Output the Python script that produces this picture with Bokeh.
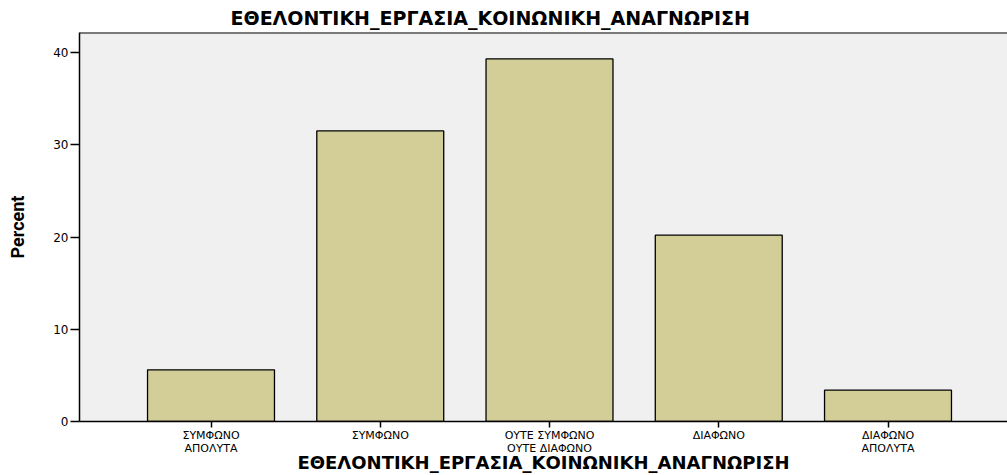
from bokeh.plotting import figure
from bokeh.models import Range1d, Span, FixedTicker, Title
from bokeh.embed import file_html
from bokeh.resources import INLINE

categories = ["ΣΥΜΦΩΝΟ\nΑΠΟΛΥΤΑ", "ΣΥΜΦΩΝΟ", "ΟΥΤΕ ΣΥΜΦΩΝΟ\nΟΥΤΕ ΔΙΑΦΩΝΟ", "ΔΙΑΦΩΝΟ", "ΔΙΑΦΩΝΟ\nΑΠΟΛΥΤΑ"]
percent = [5.6, 31.5, 39.3, 20.2, 3.4]
positions = [1, 2, 3, 4, 5]
y_ticks = [0, 10, 20, 30, 40]
title_text = "ΕΘΕΛΟΝΤΙΚΗ_ΕΡΓΑΣΙΑ_ΚΟΙΝΩΝΙΚΗ_ΑΝΑΓΝΩΡΙΣΗ"
x_title = "ΕΘΕΛΟΝΤΙΚΗ_ΕΡΓΑΣΙΑ_ΚΟΙΝΩΝΙΚΗ_ΑΝΑΓΝΩΡΙΣΗ"
y_title = "Percent"

Y_MAX = 42.17
p = figure(width=1007, height=475,
           x_range=Range1d(0.223, 5.706), y_range=Range1d(0, Y_MAX),
           output_backend="svg", toolbar_location=None,
           min_border_left=79, min_border_right=0,
           min_border_top=32, min_border_bottom=54,
           background_fill_color="#F0F0F0", border_fill_color="white",
           outline_line_color=None)

p.vbar(x=positions, top=percent, width=0.75,
       fill_color="#D3CE98", line_color="black", line_width=1.3)

p.xgrid.visible = False
p.ygrid.visible = False

xa = p.xaxis[0]
xa.ticker = FixedTicker(ticks=positions)
xa.major_label_overrides = {pos: cat for pos, cat in zip(positions, categories)}
xa.axis_line_color = "black"
xa.axis_line_width = 1.5
xa.major_tick_out = 6
xa.major_tick_in = 0
xa.major_tick_line_width = 1.5
xa.minor_tick_line_color = None
xa.major_label_text_font = "DejaVu Sans"
xa.major_label_text_font_size = "11px"
xa.major_label_text_line_height = 1.0
xa.major_label_text_color = "black"
xa.major_label_standoff = 1
xa.axis_label = x_title
xa.axis_label_text_font = "DejaVu Sans"
xa.axis_label_text_font_style = "bold"
xa.axis_label_text_font_size = "18px"
xa.axis_label_text_line_height = 1.0
xa.axis_label_text_color = "black"
xa.axis_label_standoff = -6

ya = p.yaxis[0]
ya.ticker = FixedTicker(ticks=y_ticks)
ya.axis_line_color = "black"
ya.axis_line_width = 1.5
ya.major_tick_out = 9
ya.major_tick_in = 0
ya.major_tick_line_width = 1.5
ya.minor_tick_line_color = None
ya.major_label_text_font = "DejaVu Sans"
ya.major_label_text_font_size = "12px"
ya.major_label_text_color = "black"
ya.major_label_standoff = 2
ya.axis_label = y_title
ya.axis_label_text_font = "Liberation Sans Narrow, Roboto, sans-serif"
ya.axis_label_text_font_style = "bold"
ya.axis_label_text_font_size = "18px"
ya.axis_label_text_color = "black"
ya.axis_label_standoff = 22

p.add_layout(Span(location=Y_MAX, dimension="width", line_color="black", line_width=2))

p.add_layout(Title(text=title_text, align="left", offset=151, standoff=8,
                   text_font="DejaVu Sans", text_font_style="bold",
                   text_font_size="19px", text_line_height=1.0,
                   text_color="black"), "above")

open("out.html", "w").write(file_html(p, INLINE))
